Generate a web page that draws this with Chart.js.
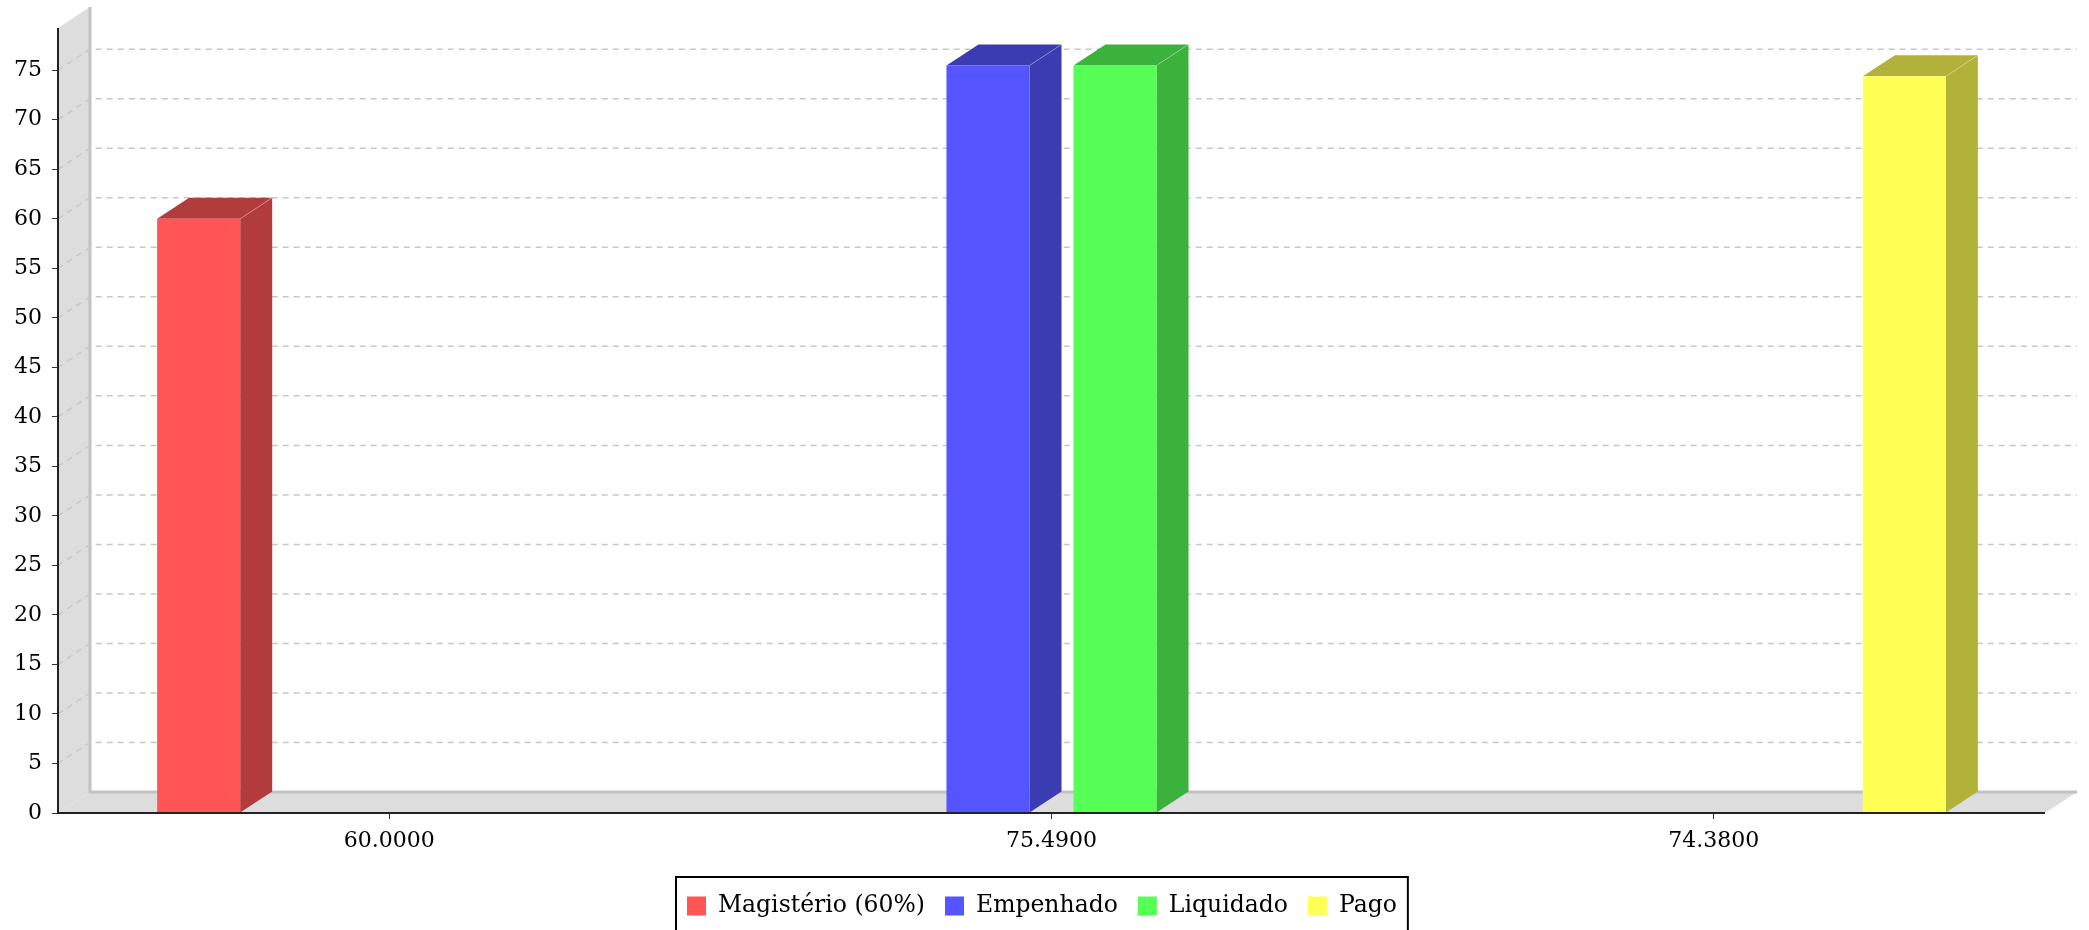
<!DOCTYPE html>
<html>
<head>
<meta charset="utf-8">
<title>Magistério</title>
<script src="https://cdn.jsdelivr.net/npm/chart.js@4.4.0/dist/chart.umd.min.js"></script>
<style>
  html, body { margin: 0; padding: 0; background: #fff; }
  #box { width: 2089px; height: 930px; }
</style>
</head>
<body>
<div id="box"><canvas id="myChart"></canvas></div>
<script>
//Categories on the x axis (they are the labels written under the bars)
const categorie = ["60.0000", "75.4900", "74.3800"];
//Names of the series for the legend
const nomiSerie = ["Magistério (60%)", "Empenhado", "Liquidado", "Pago"];
//Values of every series, one per category
const valoriMagisterio = [60, null, null];
const valoriEmpenhado = [null, 75.49, null];
const valoriLiquidado = [null, 75.49, null];
const valoriPago = [null, null, 74.38];
//Step of the y ticks
const passoY = 5;

const colori = ["#ff5555", "#5555ff", "#55ff55", "#ffff55"];
const coloriScuri = ["#b23b3b", "#3b3bb2", "#3bb23b", "#b2b23b"];

//depth of the 3d effect
const DX = 32;
const DY = -21;
const FONT = "'DejaVu Serif', serif";

//I create a plugin to draw walls, grid, 3d faces and the legend
const effetto3d = {
  id: "effetto3d",
  beforeDraw(chart) {
    const ctx = chart.ctx;
    const a = chart.chartArea;
    const y = chart.scales.y;
    ctx.save();
    ctx.fillStyle = "#dddddd";
    //left wall
    ctx.beginPath();
    ctx.moveTo(a.left, a.top);
    ctx.lineTo(a.left + DX, a.top + DY);
    ctx.lineTo(a.left + DX, a.bottom + DY);
    ctx.lineTo(a.left, a.bottom);
    ctx.closePath();
    ctx.fill();
    //floor
    ctx.beginPath();
    ctx.moveTo(a.left, a.bottom);
    ctx.lineTo(a.left + DX, a.bottom + DY);
    ctx.lineTo(a.right + DX, a.bottom + DY);
    ctx.lineTo(a.right, a.bottom);
    ctx.closePath();
    ctx.fill();
    //inner edges
    ctx.strokeStyle = "#c2c2c2";
    ctx.lineWidth = 3;
    ctx.beginPath();
    ctx.moveTo(a.left + DX, a.top + DY);
    ctx.lineTo(a.left + DX, a.bottom + DY);
    ctx.lineTo(a.right + DX, a.bottom + DY);
    ctx.stroke();
    //dashed grid on the back
    ctx.strokeStyle = "#c8c8c8";
    ctx.lineWidth = 1.5;
    ctx.setLineDash([6, 5]);
    y.ticks.forEach((t) => {
      if (t.value === 0) return;
      const py = y.getPixelForValue(t.value);
      ctx.beginPath();
      ctx.moveTo(a.left, py);
      ctx.lineTo(a.left + DX, py + DY);
      ctx.lineTo(a.right + DX, py + DY);
      ctx.stroke();
    });
    ctx.restore();
  },
  beforeDatasetsDraw(chart) {
    const ctx = chart.ctx;
    ctx.save();
    chart.data.datasets.forEach((ds, i) => {
      const meta = chart.getDatasetMeta(i);
      meta.data.forEach((bar, j) => {
        if (ds.data[j] === null) return;
        const p = bar.getProps(["x", "y", "base", "width"], true);
        const x0 = p.x - p.width / 2;
        const x1 = p.x + p.width / 2;
        ctx.fillStyle = coloriScuri[i];
        ctx.strokeStyle = "rgba(255,255,255,0.25)";
        ctx.lineWidth = 1;
        //top face
        ctx.beginPath();
        ctx.moveTo(x0, p.y);
        ctx.lineTo(x0 + DX, p.y + DY);
        ctx.lineTo(x1 + DX, p.y + DY);
        ctx.lineTo(x1, p.y);
        ctx.closePath();
        ctx.fill();
        //side face
        ctx.beginPath();
        ctx.moveTo(x1, p.y);
        ctx.lineTo(x1 + DX, p.y + DY);
        ctx.lineTo(x1 + DX, p.base + DY);
        ctx.lineTo(x1, p.base);
        ctx.closePath();
        ctx.fill();
        ctx.beginPath();
        ctx.moveTo(x1, p.y);
        ctx.lineTo(x1 + DX, p.y + DY);
        ctx.stroke();
      });
    });
    ctx.restore();
  },
  afterDatasetsDraw(chart) {
    const ctx = chart.ctx;
    const a = chart.chartArea;
    ctx.save();
    ctx.strokeStyle = "#222";
    ctx.lineWidth = 2;
    ctx.beginPath();
    ctx.moveTo(a.left, a.top);
    ctx.lineTo(a.left, a.bottom);
    ctx.lineTo(a.right, a.bottom);
    ctx.stroke();
    ctx.restore();
  },
  afterDraw(chart) {
    //I draw the legend with its black box
    const ctx = chart.ctx;
    ctx.save();
    ctx.font = "23.5px " + FONT;
    const quad = 19;
    const gapTesto = 12;
    const gapVoce = 20;
    const pad = 11;
    const larghezze = nomiSerie.map((n) => ctx.measureText(n).width);
    let totale = pad * 2 + (nomiSerie.length - 1) * gapVoce;
    larghezze.forEach((w) => (totale += w + quad + gapTesto));
    let x = Math.round(chart.width / 2 - totale / 2) - 3;
    const cy = 906;
    ctx.strokeStyle = "#000";
    ctx.lineWidth = 2;
    ctx.strokeRect(x, 877, totale, 60);
    x += pad;
    ctx.textBaseline = "middle";
    nomiSerie.forEach((n, i) => {
      ctx.fillStyle = colori[i];
      ctx.fillRect(x, cy - quad / 2, quad, quad);
      x += quad + gapTesto;
      ctx.fillStyle = "#000";
      ctx.fillText(n, x, cy);
      x += larghezze[i] + gapVoce;
    });
    ctx.restore();
  },
};

const serie = [valoriMagisterio, valoriEmpenhado, valoriLiquidado, valoriPago];
const massimo = Math.max(...serie.flat().filter((v) => v !== null));

const ctx = document.getElementById("myChart");

new Chart(ctx, {
  type: "bar",
  data: {
    labels: categorie,
    datasets: serie.map((valori, i) => ({
      label: nomiSerie[i],
      data: valori,
      backgroundColor: colori[i],
      borderWidth: 0,
      categoryPercentage: 0.767,
      barPercentage: 0.654,
    })),
  },
  plugins: [effetto3d],
  options: {
    responsive: true,
    maintainAspectRatio: false,
    animation: false,
    devicePixelRatio: 1,
    layout: { padding: { top: 28, right: 44, left: 0, bottom: 0 } },
    plugins: {
      legend: { display: false },
      tooltip: { enabled: false },
    },
    scales: {
      x: {
        grid: { offset: false, drawOnChartArea: false, drawTicks: true, tickLength: 6, color: "#333" },
        border: { display: false },
        ticks: { color: "#000", padding: 9, font: { family: FONT, size: 22 } },
        afterFit: (s) => { s.height = 117; },
      },
      y: {
        min: 0,
        max: massimo * 1.05,
        grid: { drawOnChartArea: false, drawTicks: true, tickLength: 6, color: "#333" },
        border: { display: false },
        ticks: { stepSize: passoY, includeBounds: false, color: "#000", padding: 10, font: { family: FONT, size: 22 } },
        afterFit: (s) => { s.width = 58; },
      },
    },
  },
});
</script>
</body>
</html>
